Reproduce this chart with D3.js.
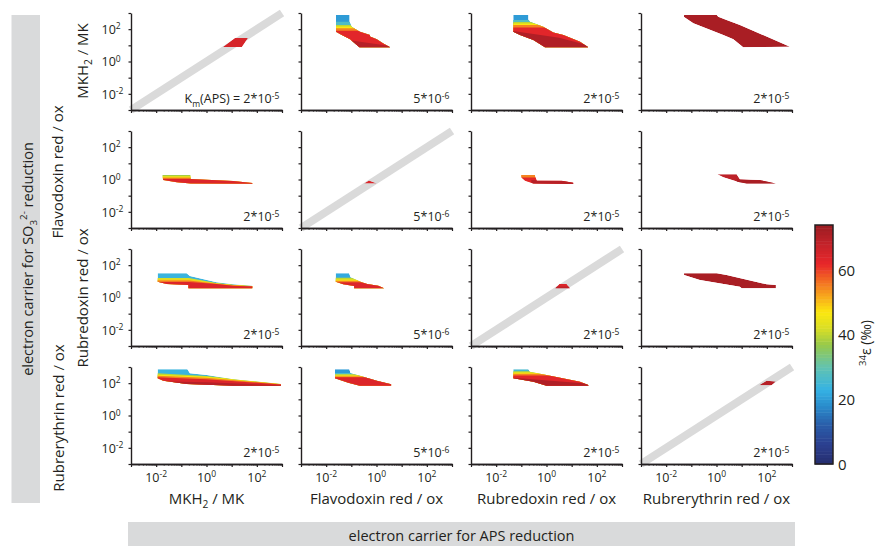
<!DOCTYPE html>
<html>
<head>
<meta charset="utf-8">
<script src="https://cdn.jsdelivr.net/npm/d3@7"></script>
<style>
body { margin: 0; background: #fff; }
text { font-family: "Open Sans", sans-serif; fill: #231f20; }
</style>
</head>
<body>
<svg id="chart" width="879" height="546"></svg>
<script>

// carriers, APS reduction on x (columns), SO3 2- reduction on y (rows)
var carriers = ["MKH_{2} / MK", "Flavodoxin red / ox", "Rubredoxin red / ox", "Rubrerythrin red / ox"];

var kmLabels = [
    ["K_{m}(APS) = 2*10^{-5}", "5*10^{-6}", "2*10^{-5}", "2*10^{-5}"],
    ["2*10^{-5}", "5*10^{-6}", "2*10^{-5}", "2*10^{-5}"],
    ["2*10^{-5}", "5*10^{-6}", "2*10^{-5}", "2*10^{-5}"],
    ["2*10^{-5}", "5*10^{-6}", "2*10^{-5}", "2*10^{-5}"]
];

var tickExps = [-2, 0, 2];
var epsTicks = [0, 20, 40, 60];
var epsMax = 74;

// colour map of 34epsilon (permil)
var cmapStops  = [0, 6, 12, 18, 23, 30, 37, 42, 47, 52, 57, 62, 68, 74];
var cmapColors = ["#262d6e", "#2b3f8f", "#2a5ca8", "#2a8ccc", "#35b2e4", "#62c3b0", "#98c94a",
                  "#d8de26", "#fbe80f", "#f8a81c", "#f26a23", "#e8262a", "#c4232a", "#9b1b21"];

// feasible regions, points are [log10 x, log10 y]; bands are drawn top down,
// each band fills everything below its upper edge ("y" = flat edge)
var r1c1Outline = [[0.65, 0.9], [1.13, 1.45], [1.65, 1.45], [1.41, 0.9]];
var r1c1Bands = [{e: 65}];

var r1c2Outline = [[-1.61, 2.88], [-1.07, 2.88], [-1.07, 2.46], [-0.99, 2.15], [-0.66, 1.84], [-0.26, 1.64],
                   [-0.26, 1.55], [0.01, 1.37], [0.27, 1.12], [0.54, 0.88], [-0.68, 0.88], [-1.05, 1.37],
                   [-1.38, 1.64], [-1.61, 1.84]];
var r1c2Bands = [{e: 20}, {e: 27, y: 2.46}, {e: 40, y: 2.26}, {e: 47, y: 2.17}, {e: 55, y: 2.05},
                 {e: 63, y: 1.9}, {e: 70, top: [[-1, 1.3], [0.6, 0.95]]}];

var r1c3Outline = [[-1.32, 2.88], [-0.72, 2.88], [-0.72, 2.6], [-0.66, 2.46], [-0.13, 2.15], [0.27, 1.8],
                   [0.67, 1.64], [1.33, 1.22], [1.66, 0.88], [-0.06, 0.88], [-0.52, 1.33], [-1.05, 1.64],
                   [-1.32, 1.84]];
var r1c3Bands = [{e: 20}, {e: 28, y: 2.57}, {e: 40, y: 2.44}, {e: 47, y: 2.35}, {e: 55, y: 2.26},
                 {e: 63, y: 2.1}, {e: 71, top: [[-1.4, 1.9], [0.5, 1.47], [1.8, 0.95]]}];

var r1c4Outline = [[-1.29, 2.88], [0.01, 2.88], [0.07, 2.77], [0.4, 2.57], [0.93, 2.26], [2.92, 0.91],
                   [1.06, 0.88], [0.67, 1.37], [0.27, 1.64], [-0.92, 2.36], [-1.29, 2.75]];
var r1c4Bands = [{e: 72}];

var r2c1Outline = [[-1.76, 0.28], [-0.63, 0.28], [-0.63, 0.03], [1.06, -0.09], [1.82, -0.22], [1.82, -0.26],
                   [-0.63, -0.24], [-1.18, -0.17], [-1.72, -0.03]];
var r2c1Bands = [{e: 38}, {e: 46, y: 0.2}, {e: 54, y: 0.13}, {e: 64, y: 0.05}];

var r2c2Outline = [[-0.5, -0.25], [-0.3, -0.06], [-0.14, -0.16], [0.02, -0.25]];
var r2c2Bands = [{e: 64}];

var r2c3Outline = [[-1.01, 0.28], [-0.46, 0.28], [-0.39, -0.07], [0.6, -0.07], [1.06, -0.2], [1.06, -0.28],
                   [-0.52, -0.24], [-0.85, -0.07], [-1.01, 0.14]];
var r2c3Bands = [{e: 55}, {e: 63, y: 0.12}, {e: 70, top: [[-0.6, -0.03], [1.2, -0.12]]}];

var r2c4Outline = [[0.03, 0.32], [0.8, 0.32], [0.93, 0.01], [1.73, -0.03], [2.36, -0.24], [1.2, -0.24],
                   [0.87, -0.16], [0.27, 0.14]];
var r2c4Bands = [{e: 69}, {e: 72, top: [[0.8, 0.0], [2.4, -0.1]]}];

var r3c1Outline = [[-1.94, 1.5], [-0.79, 1.5], [-0.66, 1.33], [0.4, 0.94], [1.06, 0.82], [1.82, 0.73],
                   [1.82, 0.57], [-0.72, 0.57], [-0.72, 0.77], [-1.58, 0.83], [-1.94, 0.98]];
var r3c1Bands = [{e: 24},
                 {e: 42, top: [[-2.5, 1.2], [-0.7, 1.2], [0.4, 0.9], [1.06, 0.79], [1.9, 0.71]]},
                 {e: 49, top: [[-2.5, 1.11], [-0.7, 1.11], [0.4, 0.87], [1.06, 0.77], [1.9, 0.7]]},
                 {e: 56, top: [[-2.5, 1.05], [-0.7, 1.05], [0.4, 0.85], [1.06, 0.75], [1.9, 0.69]]},
                 {e: 64, top: [[-2.5, 0.96], [-0.7, 0.96], [0.4, 0.83], [1.06, 0.73], [1.9, 0.68]]}];

var r3c2Outline = [[-1.62, 1.5], [-1.09, 1.5], [-1.03, 1.25], [-0.59, 0.94], [-0.37, 0.83], [0.07, 0.73],
                   [0.3, 0.57], [-0.89, 0.57], [-0.89, 0.71], [-1.32, 0.82], [-1.62, 0.98]];
var r3c2Bands = [{e: 22}, {e: 40, y: 1.22}, {e: 47, y: 1.12}, {e: 55, y: 1.03}, {e: 64, y: 0.95}];

var r3c3Outline = [[0.35, 0.57], [0.51, 0.83], [0.8, 0.83], [0.93, 0.57]];
var r3c3Bands = [{e: 64}, {e: 69, y: 0.68}];

var r3c4Outline = [[-1.29, 1.5], [0.01, 1.5], [0.4, 1.39], [1.99, 0.82], [2.36, 0.77], [2.36, 0.57],
                   [1.0, 0.57], [0.93, 0.67], [-0.66, 1.08], [-1.29, 1.39]];
var r3c4Bands = [{e: 72}];

var r4c1Outline = [[-1.94, 2.86], [-0.76, 2.86], [-0.66, 2.61], [0.01, 2.5], [1.06, 2.24], [2.96, 1.95],
                   [2.96, 1.84], [1.06, 1.84], [-0.79, 1.95], [-1.72, 2.15], [-1.94, 2.3]];
var r4c1Bands = [{e: 24},
                 {e: 40, top: [[-2, 2.61], [0, 2.45], [3, 1.97]]},
                 {e: 47, top: [[-2, 2.53], [0, 2.39], [3, 1.96]]},
                 {e: 55, top: [[-2, 2.46], [0, 2.33], [3, 1.94]]},
                 {e: 64, top: [[-2, 2.37], [0, 2.24], [3, 1.92]]},
                 {e: 70, top: [[-2, 2.12], [0, 2.06], [3, 1.87]]}];

var r4c2Outline = [[-1.65, 2.86], [-1.08, 2.86], [-1.03, 2.61], [-0.66, 2.46], [0.01, 2.15], [0.58, 1.93],
                   [0.58, 1.84], [-0.66, 1.84], [-1.12, 2.03], [-1.65, 2.3]];
var r4c2Bands = [{e: 20}, {e: 27, y: 2.63}, {e: 42, y: 2.55}, {e: 49, y: 2.48}, {e: 56, y: 2.42}, {e: 64, y: 2.36}];

var r4c3Outline = [[-1.32, 2.86], [-0.72, 2.86], [-0.66, 2.71], [0.0, 2.5], [1.33, 2.09], [1.66, 1.89],
                   [1.66, 1.84], [0.0, 1.84], [-0.52, 2.09], [-1.32, 2.3]];
var r4c3Bands = [{e: 26}, {e: 40, y: 2.74}, {e: 47, y: 2.66}, {e: 55, y: 2.58}, {e: 63, y: 2.48},
                 {e: 71, top: [[-1.4, 2.35], [1.8, 1.95]]}];

var r4c4Outline = [[1.69, 1.87], [1.99, 2.15], [2.36, 2.11], [2.19, 1.87]];
var r4c4Bands = [{e: 70}];

var regions = [
    [[r1c1Outline, r1c1Bands], [r1c2Outline, r1c2Bands], [r1c3Outline, r1c3Bands], [r1c4Outline, r1c4Bands]],
    [[r2c1Outline, r2c1Bands], [r2c2Outline, r2c2Bands], [r2c3Outline, r2c3Bands], [r2c4Outline, r2c4Bands]],
    [[r3c1Outline, r3c1Bands], [r3c2Outline, r3c2Bands], [r3c3Outline, r3c3Bands], [r3c4Outline, r3c4Bands]],
    [[r4c1Outline, r4c1Bands], [r4c2Outline, r4c2Bands], [r4c3Outline, r4c3Bands], [r4c4Outline, r4c4Bands]]
];

// ---- layout ----
var svg = d3.select("#chart");
var colX = [131, 301, 471, 641], rowY = [13, 131, 249, 367];
var pw = 151, ph = 97;
var rowLabelX = [88, 63, 88, 64], rowLabelY = [61, 172, 298, 418];

var x = d3.scaleLog().domain([1e-3, 1e3]).range([0, pw]);
var y = d3.scaleLog().domain([1e-3, 1e3]).range([ph, 0]);
var color = d3.scaleLinear().domain(cmapStops).range(cmapColors).clamp(true);

function p10(e){ return Math.pow(10, e); }

var line = d3.line()
    .x(function(d){ return x(p10(d[0])); })
    .y(function(d){ return y(p10(d[1])); });

// text with _{sub} and ^{sup}
function rich(text, str, fs){
    var parts = str.split(/([_^]\{[^}]*\})/).filter(Boolean);
    var cur = 0;
    parts.forEach(function(s){
        var off = 0, size = fs, t = s;
        if(s[0] == "^"){ off = -0.38 * fs; size = 0.68 * fs; t = s.slice(2, -1); }
        else if(s[0] == "_"){ off = 0.28 * fs; size = 0.68 * fs; t = s.slice(2, -1); }
        text.append("tspan").attr("dy", off - cur).attr("font-size", size).text(t);
        cur = off;
    });
    text.attr("font-size", fs);
    return text;
}

// gray boxes
svg.append("rect").attr("x", 11.5).attr("y", 15).attr("width", 28.5).attr("height", 488).attr("fill", "#d9dadb");
svg.append("rect").attr("x", 128).attr("y", 522).attr("width", 667).attr("height", 24).attr("fill", "#d9dadb");

rich(svg.append("text").attr("text-anchor", "middle")
    .attr("transform", "translate(32.5,259) rotate(-90)"), "electron carrier for SO_{3}^{2-} reduction", 14.5);
rich(svg.append("text").attr("text-anchor", "middle").attr("x", 461.5).attr("y", 541),
    "electron carrier for APS reduction", 14.5);

var defs = svg.append("defs");

for(let r = 0; r < 4; r++){
    for(let c = 0; c < 4; c++){

        let g = svg.append("g").attr("transform", "translate(" + colX[c] + "," + rowY[r] + ")");
        let outline = regions[r][c][0];
        let bands = regions[r][c][1];

        if(r == c){
            g.append("path")
                .attr("d", line([[-3, -3], [3, 3]]))
                .attr("stroke", "#dadada")
                .attr("stroke-width", 8)
                .attr("fill", "none");
        }

        let clipId = "clip" + r + c;
        defs.append("clipPath").attr("id", clipId)
            .append("path").attr("transform", "translate(" + colX[c] + "," + rowY[r] + ")")
            .attr("d", line(outline) + "Z");

        let rg = svg.append("g").attr("clip-path", "url(#" + clipId + ")")
            .append("g").attr("transform", "translate(" + colX[c] + "," + rowY[r] + ")");

        bands.forEach(function(b){
            let poly;
            if(b.y !== undefined){
                poly = [[-3.5, b.y], [3.5, b.y], [3.5, -3.5], [-3.5, -3.5]];
            } else if(b.top){
                let t = b.top;
                poly = t.concat([[t[t.length - 1][0], -3.5], [t[0][0], -3.5]]);
            } else {
                poly = outline;
            }
            rg.append("path").attr("d", line(poly) + "Z").attr("fill", color(b.e));
        });

        // axes
        g.append("g").call(d3.axisLeft(y).tickValues(d3.range(-3, 4).map(p10)).tickSize(2.5).tickSizeOuter(0).tickFormat(""));
        let xminor = [];
        for(let k = -3; k < 3; k++){ for(let m = 2; m < 10; m++){ xminor.push(m * p10(k)); } }
        g.append("g").attr("transform", "translate(0," + ph + ")")
            .call(d3.axisBottom(x).tickValues(xminor).tickSize(1.5).tickSizeOuter(0).tickFormat(""));
        g.append("g").attr("transform", "translate(0," + ph + ")")
            .call(d3.axisBottom(x).tickValues(d3.range(-3, 4).map(p10)).tickSize(3).tickSizeOuter(0).tickFormat(""));
        g.selectAll(".domain, .tick line").attr("stroke", "#231f20").attr("stroke-width", 1.2);
        g.selectAll(".domain").attr("stroke-width", 1.4);

        // km annotation
        rich(g.append("text").attr("text-anchor", "end").attr("x", pw - 2.7).attr("y", ph - 6.7), kmLabels[r][c], 12.5);

        if(c == 0){
            tickExps.forEach(function(e){
                rich(g.append("text").attr("x", -29.5).attr("y", y(p10(e)) + 4.8), "10^{" + e + "}", 12.5);
            });
            rich(svg.append("text").attr("text-anchor", "middle")
                .attr("transform", "translate(" + rowLabelX[r] + "," + rowLabelY[r] + ") rotate(-90)"), carriers[r], 15);
        }
        if(r == 3){
            tickExps.forEach(function(e){
                rich(g.append("text").attr("text-anchor", "middle").attr("x", x(p10(e))).attr("y", ph + 18), "10^{" + e + "}", 12.5);
            });
            rich(g.append("text").attr("text-anchor", "middle").attr("x", pw / 2).attr("y", ph + 39.5), carriers[c], 15);
        }
    }
}

// colour bar
var cb = svg.append("g").attr("transform", "translate(815,0)");
var eps = d3.scaleLinear().domain([0, epsMax]).range([464, 225]);
d3.range(0, epsMax).forEach(function(v){
    cb.append("rect").attr("x", 0).attr("width", 18)
        .attr("y", eps(v + 1)).attr("height", eps(v) - eps(v + 1) + 0.5)
        .attr("fill", color(v + 0.5));
});
cb.append("rect").attr("x", 0).attr("y", eps(epsMax)).attr("width", 18).attr("height", eps(0) - eps(epsMax))
    .attr("fill", "none").attr("stroke", "#231f20").attr("stroke-width", 1.5);
epsTicks.forEach(function(v){
    cb.append("text").attr("x", 23).attr("y", eps(v) + 5.5).attr("font-size", 15).text(v);
});
rich(svg.append("text").attr("text-anchor", "middle").attr("transform", "translate(871,343) rotate(-90)"),
    "^{34}ε (‰)", 14);

</script>
</body>
</html>
